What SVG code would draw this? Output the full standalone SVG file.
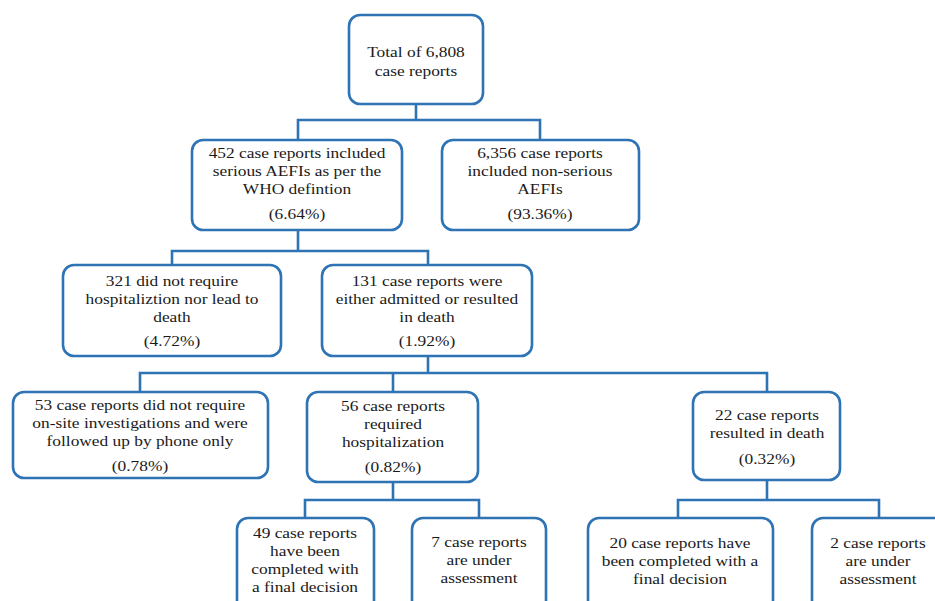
<svg xmlns="http://www.w3.org/2000/svg" width="935" height="601" viewBox="0 0 935 601">
<style>
.box{fill:#fff;stroke:#2E74B5;stroke-width:2.6}
.ln{fill:none;stroke:#2E74B5;stroke-width:2.6}
.t text{font-family:'Liberation Serif','Times New Roman','DejaVu Serif',serif;font-size:15.5px;fill:#1a1a1a;text-anchor:middle}
</style>
<rect width="935" height="601" fill="#fff"/>
<g id="connectors">
<path class="ln" d="M416,104V120M298,140V120H540V140"/>
<path class="ln" d="M298,230V251M172,265V251H428V265"/>
<path class="ln" d="M428,356V373M140,392V373H767V392M393,373V392"/>
<path class="ln" d="M393,482V500M305,518V500H479V518"/>
<path class="ln" d="M767,480V500M678,518V500H879V518"/>
</g>
<g id="n1"><rect class="box" x="349" y="15" width="134" height="89" rx="11"/>
<g class="t" font-family="Liberation Serif, serif" transform="translate(416 0) scale(1.12 1)"><text x="0" y="57">Total of 6,808</text><text x="0" y="76">case reports</text></g></g>
<g id="n2"><rect class="box" x="192" y="140" width="210" height="90" rx="11"/>
<g class="t" transform="translate(297 0) scale(1.12 1)"><text x="0" y="158">452 case reports included</text><text x="0" y="176">serious AEFIs as per the</text><text x="0" y="194">WHO defintion</text><text x="0" y="219">(6.64%)</text></g></g>
<g id="n3"><rect class="box" x="442" y="140" width="197" height="90" rx="11"/>
<g class="t" transform="translate(540 0) scale(1.12 1)"><text x="0" y="158">6,356 case reports</text><text x="0" y="176">included non-serious</text><text x="0" y="194">AEFIs</text><text x="0" y="219">(93.36%)</text></g></g>
<g id="n4"><rect class="box" x="63" y="265" width="218" height="91" rx="11"/>
<g class="t" transform="translate(172 0) scale(1.12 1)"><text x="0" y="286">321 did not require</text><text x="0" y="304">hospitaliztion nor lead to</text><text x="0" y="322">death</text><text x="0" y="346">(4.72%)</text></g></g>
<g id="n5"><rect class="box" x="322" y="265" width="210" height="91" rx="11"/>
<g class="t" transform="translate(427 0) scale(1.12 1)"><text x="0" y="286">131 case reports were</text><text x="0" y="304">either admitted or resulted</text><text x="0" y="322">in death</text><text x="0" y="346">(1.92%)</text></g></g>
<g id="n6"><rect class="box" x="13" y="392" width="255" height="86" rx="11"/>
<g class="t" transform="translate(140 0) scale(1.12 1)"><text x="0" y="410">53 case reports did not require</text><text x="0" y="428">on-site investigations and were</text><text x="0" y="446">followed up by phone only</text><text x="0" y="471">(0.78%)</text></g></g>
<g id="n7"><rect class="box" x="307" y="392" width="171" height="90" rx="11"/>
<g class="t" transform="translate(393 0) scale(1.12 1)"><text x="0" y="411">56 case reports</text><text x="0" y="429">required</text><text x="0" y="447">hospitalization</text><text x="0" y="472">(0.82%)</text></g></g>
<g id="n8"><rect class="box" x="693" y="392" width="147" height="88" rx="11"/>
<g class="t" transform="translate(767 0) scale(1.12 1)"><text x="0" y="420">22 case reports</text><text x="0" y="438">resulted in death</text><text x="0" y="464">(0.32%)</text></g></g>
<g id="n9"><rect class="box" x="237" y="518" width="137" height="100" rx="11"/>
<g class="t" transform="translate(305 0) scale(1.12 1)"><text x="0" y="538">49 case reports</text><text x="0" y="556">have been</text><text x="0" y="574">completed with</text><text x="0" y="592">a final decision</text></g></g>
<g id="n10"><rect class="box" x="412" y="518" width="134" height="100" rx="11"/>
<g class="t" transform="translate(479 0) scale(1.12 1)"><text x="0" y="547">7 case reports</text><text x="0" y="565">are under</text><text x="0" y="583">assessment</text></g></g>
<g id="n11"><rect class="box" x="588" y="518" width="185" height="100" rx="11"/>
<g class="t" transform="translate(680 0) scale(1.12 1)"><text x="0" y="548">20 case reports have</text><text x="0" y="566">been completed with a</text><text x="0" y="584">final decision</text></g></g>
<g id="n12"><rect class="box" x="812" y="518" width="134" height="100" rx="11"/>
<g class="t" transform="translate(878 0) scale(1.12 1)"><text x="0" y="548">2 case reports</text><text x="0" y="566">are under</text><text x="0" y="584">assessment</text></g></g>
</svg>
